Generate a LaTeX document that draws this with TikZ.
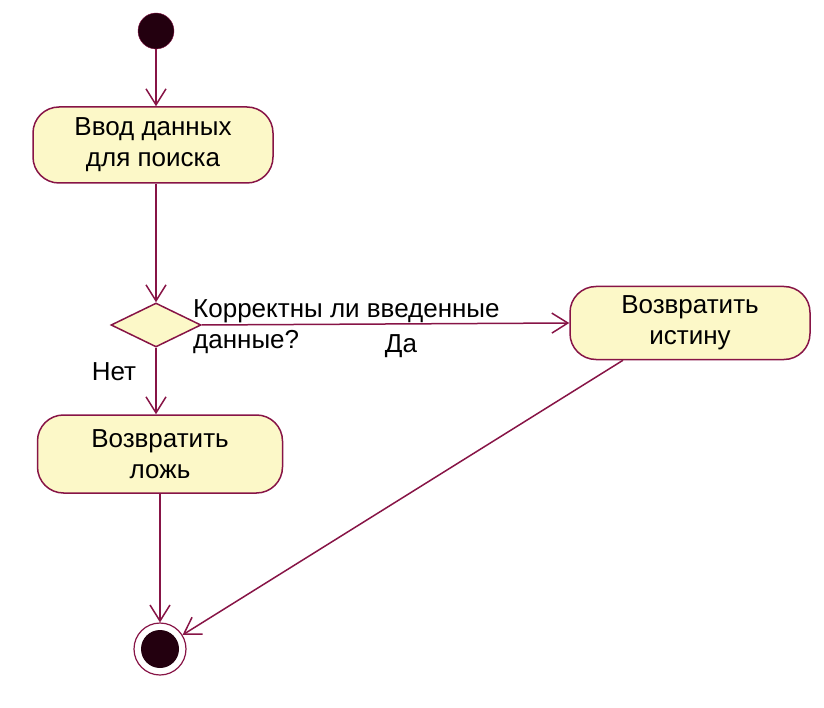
\documentclass[tikz,border=0pt]{standalone}
\usepackage{fontspec}
\setmainfont{Liberation Sans}
\usetikzlibrary{arrows.meta, shapes.geometric}
\definecolor{umlline}{RGB}{135,20,70}
\definecolor{umlfill}{RGB}{252,248,200}
\definecolor{umldot}{RGB}{35,0,15}

\begin{document}
\begin{tikzpicture}[x=1pt, y=-1pt,
    activity/.style={draw=umlline, fill=umlfill, line width=1.5pt, rectangle, rounded corners=26pt,
      minimum width=240pt, minimum height=76pt, inner sep=0pt, align=center,
      font=\fontsize{26}{31}\selectfont},
    choice/.style={draw=umlline, fill=umlfill, line width=1.5pt, diamond, aspect=2,
      minimum width=90pt, minimum height=44pt, inner sep=0pt},
    initial/.style={circle, draw=umlline, fill=umldot, minimum size=36pt, inner sep=0pt},
    final/.style={circle, draw=umlline, fill=white, line width=1.2pt, minimum size=52pt, inner sep=0pt,
      path picture={\fill[umldot] (path picture bounding box.center) circle (19pt);}},
    label text/.style={font=\fontsize{26}{31}\selectfont, inner sep=0pt},
    flow/.style={draw=umlline, line width=1.5pt, -{Straight Barb[length=16pt, width=20pt, line width=1.5pt]}}]

    \useasboundingbox (0,0) rectangle (824,708);

    \node[initial] (start) at (156,31) {};
    \node[activity] (input) at (153,145) {Ввод данных\\для поиска};
    \node[choice] (decision) at (156,325) {};
    \node[activity, minimum height=73pt] (rettrue) at (690,323) {Возвратить\\истину};
    \node[activity, minimum width=245pt, minimum height=78pt] (retfalse) at (160,454) {Возвратить\\ложь};
    \node[final] (finish) at (160,649) {};

    \node[label text, anchor=north west, align=left] (question) at (193,299) {Корректны ли введенные\\данные?};
    \node[label text] (yes) at (401,346) {Да};
    \node[label text] (no) at (114,372) {Нет};

    \coordinate (truefoot) at ([xshift=-67pt]rettrue.south);

    \draw[flow] (start) -- (start |- input.north);
    \draw[flow] (input.south -| decision.north) -- (decision.north);
    \draw[flow] (decision.east) -- (rettrue.west);
    \draw[flow] (decision.south) -- (decision.south |- retfalse.north);
    \draw[flow] (retfalse.south -| finish.north) -- (finish.north);
    \draw[flow] (truefoot) -- (finish);
\end{tikzpicture}
\end{document}
